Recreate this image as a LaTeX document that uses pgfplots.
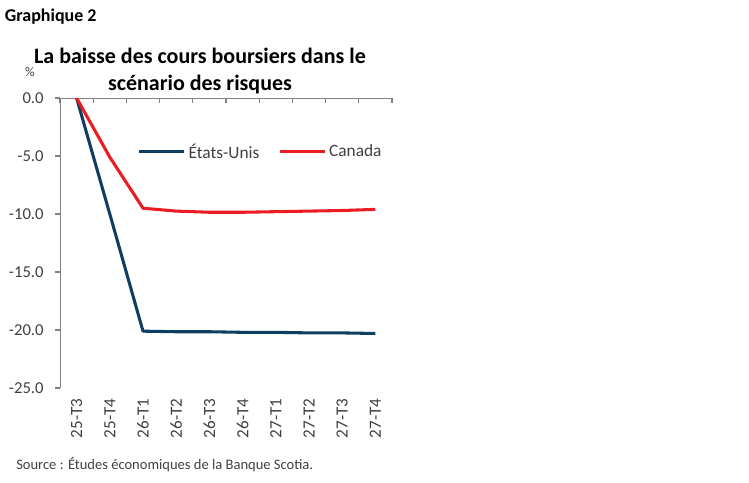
\documentclass[border=0pt]{standalone}
\usepackage{fontspec}
\setmainfont{Carlito}
\usepackage{pgfplots}
\pgfplotsset{compat=1.18}
\definecolor{usblue}{HTML}{0E3E62}
\definecolor{canred}{HTML}{EC1C24}
\definecolor{axisgray}{HTML}{808080}
\definecolor{textgray}{HTML}{404040}

\begin{document}
\begin{tikzpicture}
\path[use as bounding box] (0,0) rectangle (561.75pt,-361.5pt);
\node[anchor=base west, inner sep=0pt, font=\bfseries\fontsize{13.5}{16}\selectfont] at (3.5pt,-16.3pt) {Graphique 2};
\node[anchor=base, inner sep=0pt, font=\bfseries\fontsize{16.5}{19}\selectfont] at (150pt,-47.3pt) {La baisse des cours boursiers dans le};
\node[anchor=base, inner sep=0pt, font=\bfseries\fontsize{16.5}{19}\selectfont] at (150pt,-68pt) {scénario des risques};
\node[inner sep=0pt, text=textgray, font=\fontsize{10}{12}\selectfont] at (22.5pt,-54pt) {\%};
\node[anchor=base west, inner sep=0pt, text=textgray, font=\fontsize{10.9}{12}\selectfont] at (12pt,-352pt) {Source : Études économiques de la Banque Scotia.};

\begin{axis}[
  at={(45pt,-73.5pt)}, anchor=north west,
  scale only axis, width=249pt, height=217.5pt,
  xmin=-0.5, xmax=9.5, ymin=-25, ymax=0,
  axis line style={draw=none},
  xtick={-0.5,0.5,...,9.5}, xticklabels={},
  extra x ticks={0,1,...,9},
  extra x tick labels={25-T3,25-T4,26-T1,26-T2,26-T3,26-T4,27-T1,27-T2,27-T3,27-T4},
  extra x tick style={major tick length=0pt},
  xtick pos=upper, xticklabel pos=lower,
  xtick align=inside,
  ytick={-25,-20,...,0},
  ytick pos=left, ytick align=outside,
  major tick length=3.75pt,
  tick style={axisgray, line width=0.8pt},
  xticklabel style={rotate=90, anchor=east, xshift=-4.5pt, text=textgray, font=\fontsize{12.8}{14}\selectfont},
  yticklabel style={xshift=-5pt, text=textgray, font=\fontsize{12.5}{14}\selectfont,
    /pgf/number format/.cd, fixed, fixed zerofill, precision=1, assume math mode=true},
  /pgf/number format/assume math mode=true,
  legend columns=2,
  legend style={draw=none, fill=none, at={(rel axis cs:0.605,0.814)}, anchor=center,
    font=\fontsize{13}{15}\selectfont, text=textgray},
  legend image code/.code={\draw[#1] (0pt,0pt) -- (34pt,0pt);},
  /tikz/every even column/.append style={column sep=12pt},
  every axis plot/.append style={line width=2.3pt, line join=round},
]
\draw[axisgray, line width=1pt] (rel axis cs:0,0) -- (rel axis cs:0,1) -- (rel axis cs:1,1);
\addplot[usblue] coordinates {
  (0,0) (1,-10.0) (2,-20.1) (3,-20.15) (4,-20.15) (5,-20.2) (6,-20.2) (7,-20.25) (8,-20.25) (9,-20.3)
};
\addlegendentry{États-Unis}
\addplot[canred] coordinates {
  (0,0) (1,-5.1) (2,-9.5) (3,-9.75) (4,-9.85) (5,-9.85) (6,-9.8) (7,-9.75) (8,-9.7) (9,-9.6)
};
\addlegendentry{Canada}
\end{axis}
\end{tikzpicture}
\end{document}
